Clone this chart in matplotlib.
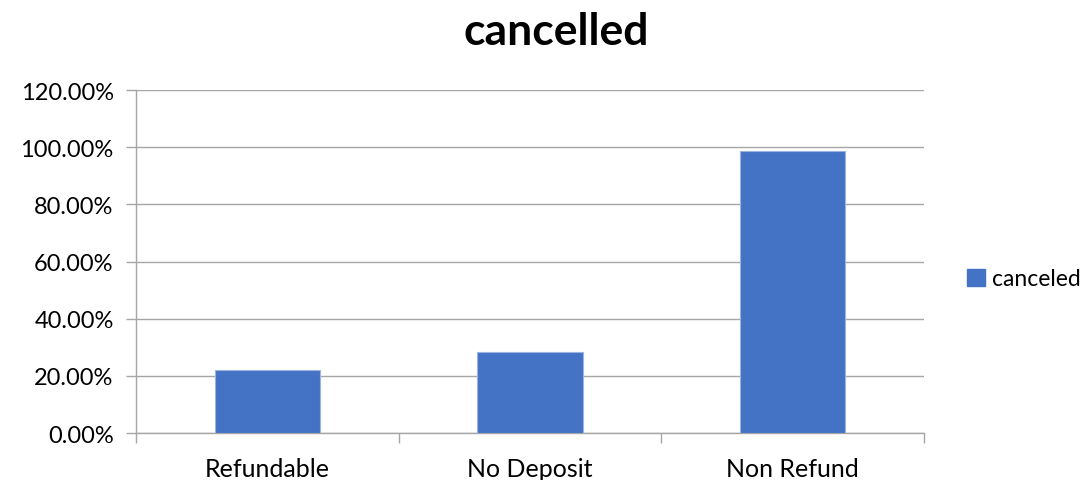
import matplotlib
matplotlib.use('Agg')
import matplotlib.pyplot as plt
from matplotlib.ticker import PercentFormatter
from matplotlib.patches import Patch

# данные
categories = ['Refundable', 'No Deposit', 'Non Refund']
canceled = [0.220, 0.283, 0.987]
yticks = [0.0, 0.2, 0.4, 0.6, 0.8, 1.0, 1.2]

plt.rcParams['font.family'] = ['Lato', 'DejaVu Sans']

fig = plt.figure(figsize=(10.86, 4.81), dpi=100)
ax = fig.add_axes([0.1252, 0.0977, 0.7256, 0.7131])

x = range(len(categories))
ax.bar(x, canceled, width=0.4, color='#4472C4', edgecolor='#9DB3E0', linewidth=0.8, zorder=3)

ax.set_xlim(-0.5, len(categories) - 0.5)
ax.set_ylim(0, 1.2)
ax.set_yticks(yticks)
ax.yaxis.set_major_formatter(PercentFormatter(1.0, decimals=2))
ax.grid(axis='y', color='#A6A6A6', linewidth=1.0, zorder=0)

# подписи категорий между делениями
ax.set_xticks([i - 0.5 for i in range(len(categories) + 1)])
ax.set_xticklabels([])
ax.set_xticks(list(x), minor=True)
ax.set_xticklabels(categories, minor=True)
ax.tick_params(axis='x', which='minor', length=0, labelsize=18, pad=17)
ax.tick_params(axis='x', which='major', length=7, color='#A6A6A6', width=1)
ax.tick_params(axis='y', length=7, color='#A6A6A6', width=1, labelsize=17, pad=9)

for s in ['top', 'right']:
    ax.spines[s].set_visible(False)
for s in ['left', 'bottom']:
    ax.spines[s].set_color('#A6A6A6')
    ax.spines[s].set_linewidth(1.0)

fig.suptitle('cancelled', x=0.512, y=0.975, fontsize=32, fontweight='bold')

fig.legend(handles=[Patch(color='#4472C4', label='canceled')], loc='center left',
           bbox_to_anchor=(0.882, 0.418), frameon=False, fontsize=16.5,
           handlelength=0.8, handleheight=0.8, handletextpad=0.3, borderaxespad=0)

fig.savefig('out.png', dpi=100)
